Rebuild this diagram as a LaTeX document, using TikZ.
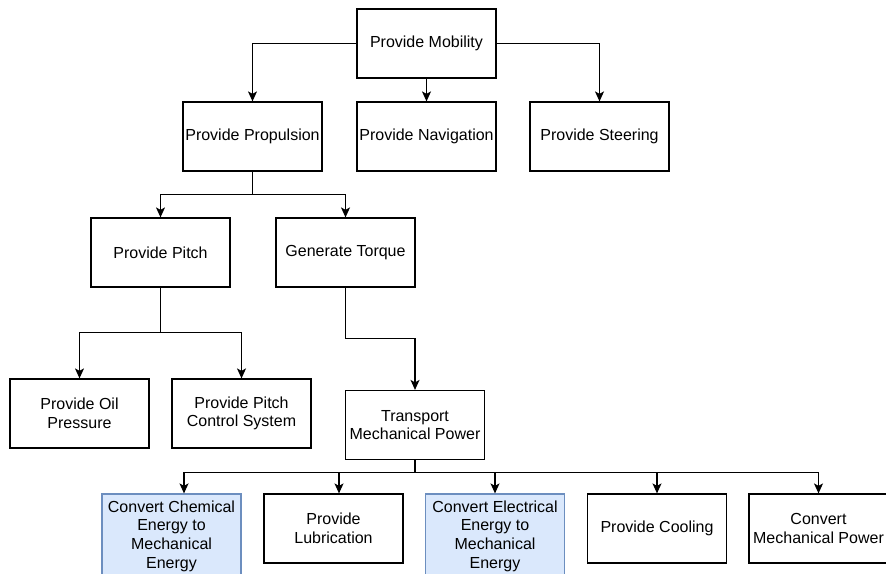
\documentclass[tikz,border=0pt]{standalone}
\usepackage{fontspec}
\setmainfont{Liberation Sans}
\usetikzlibrary{arrows.meta}

\definecolor{bluefill}{HTML}{DAE8FC}
\definecolor{blueline}{HTML}{6C8EBF}

\tikzset{
  fbox/.style={draw, line width=1.2pt, minimum width=139pt, minimum height=69pt,
    inner sep=0pt, align=center, font=\fontsize{16}{18.7}\selectfont},
  bluebox/.style={fbox, fill=bluefill, draw=blueline, minimum height=84pt},
  arr/.style={line width=1.2pt, -{Stealth[length=10pt,width=9pt,inset=2.5pt]}}
}

\begin{document}
\begin{tikzpicture}[x=1pt, y=-1pt]
            \useasboundingbox (0,0) rectangle (886,573);

            % Define functions
            \node[fbox] (mob) at (426.5,43.5) {Provide Mobility};
            \node[fbox] (prop) at (252.5,136.5) {Provide Propulsion};
            \node[fbox] (nav) at (426.5,136.5) {Provide Navigation};
            \node[fbox] (steer) at (599.5,136.5) {Provide Steering};
            \node[fbox] (pitch) at (160.5,252.5) {Provide Pitch};
            \node[fbox] (torque) at (345.5,252.5) {Generate Torque};
            \node[fbox] (oil) at (79.5,413.5) {Provide Oil\\Pressure};
            \node[fbox] (pcs) at (241.5,413.5) {Provide Pitch\\Control System};
            \node[fbox] (trans) at (415,425) {Transport\\Mechanical Power};
            \node[bluebox] (chem) at (171.5,536) {Convert Chemical\\Energy to\\Mechanical\\Energy};
            \node[fbox] (lub) at (333.5,528.5) {Provide\\Lubrication};
            \node[bluebox] (elec) at (495,536) {Convert Electrical\\Energy to\\Mechanical\\Energy};
            \node[fbox] (cool) at (657,528.5) {Provide Cooling};
            \node[fbox] (mech) at (818.5,528.5) {Convert\\Mechanical Power};

            % Draw edges with arrows
            \draw[arr] (mob.west) -| (prop.north);
            \draw[arr] (mob.south) -- (nav.north);
            \draw[arr] (mob.east) -| (steer.north);
            \draw[arr] (prop.south) -- ++(0,23) -| (pitch.north);
            \draw[arr] (prop.south) -- ++(0,23) -| (torque.north);
            \draw[arr] (pitch.south) -- ++(0,45) -| (oil.north);
            \draw[arr] (pitch.south) -- ++(0,45) -| (pcs.north);
            \draw[arr] (torque.south) -- ++(0,51) -| (trans.north);
            \draw[arr] (trans.south) -- ++(0,12) -| ([xshift=12.5pt]chem.north);
            \draw[arr] (trans.south) -- ++(0,12) -| ([xshift=5.5pt]lub.north);
            \draw[arr] (trans.south) -- ++(0,12) -| (elec.north);
            \draw[arr] (trans.south) -- ++(0,12) -| (cool.north);
            \draw[arr] (trans.south) -- ++(0,12) -| (mech.north);
        \end{tikzpicture}
\end{document}
